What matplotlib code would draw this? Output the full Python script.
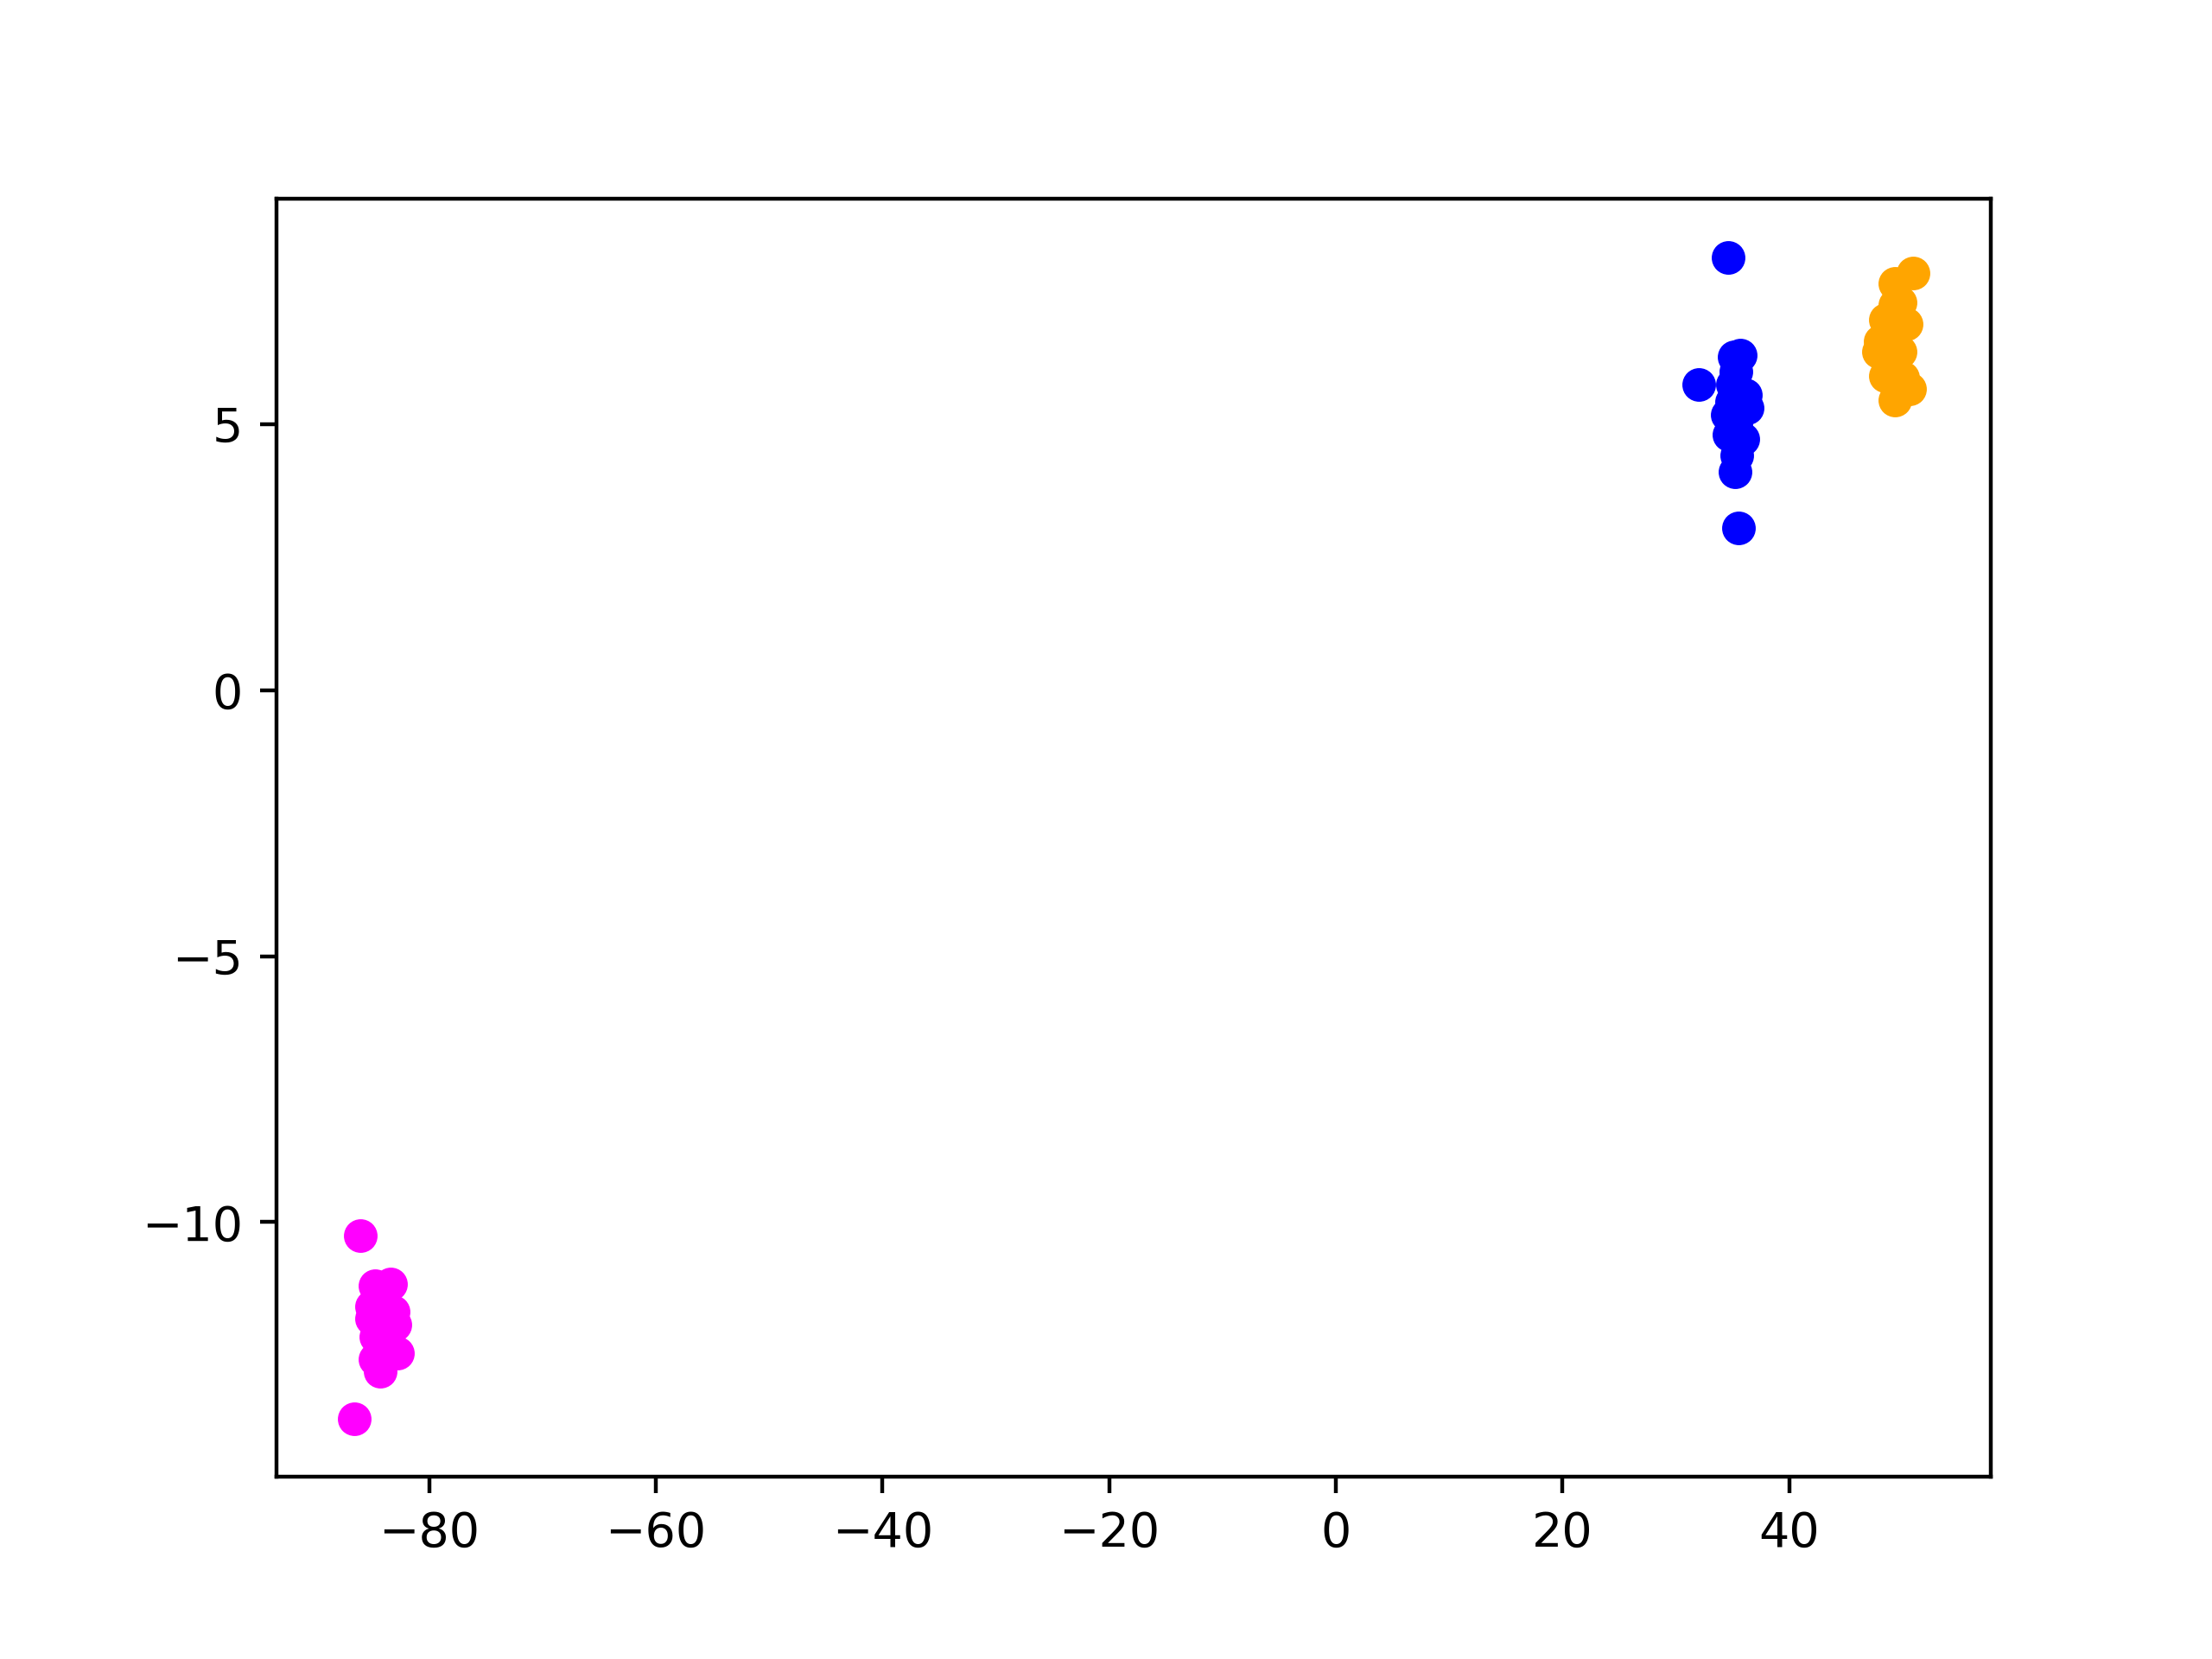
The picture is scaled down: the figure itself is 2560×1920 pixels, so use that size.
import matplotlib
matplotlib.use("Agg")
import matplotlib.pyplot as plt

blue_x = [34.6, 32.0, 35.5, 35.7, 35.1, 35.3, 36.1, 36.3, 34.5, 34.7, 35.9, 35.4, 35.2, 34.9, 35.3, 35.0]
blue_y = [8.14, 5.75, 3.05, 6.29, 6.27, 5.99, 5.55, 5.31, 5.18, 4.81, 4.73, 4.42, 4.11, 5.42, 5.02, 5.75]

orange_x = [50.9, 49.3, 49.8, 50.3, 48.5, 48.0, 47.9, 49.8, 48.5, 50.6, 49.3, 50.0, 49.0, 49.3]
orange_y = [7.84, 7.65, 7.29, 6.89, 6.97, 6.56, 6.37, 6.37, 5.91, 5.67, 5.46, 5.88, 6.76, 7.24]

magenta_x = [-86.1, -86.6, -84.8, -83.4, -85.1, -85.1, -83.2, -83.0, -84.7, -82.8, -84.8, -84.3, -83.8]
magenta_y = [-10.25, -13.69, -11.19, -11.17, -11.58, -11.82, -11.68, -11.92, -12.15, -12.47, -12.57, -12.81, -12.25]

fig, ax = plt.subplots(figsize=(6.4, 4.8), dpi=400)
ax.scatter(blue_x, blue_y, color="blue")
ax.scatter(orange_x, orange_y, color="orange")
ax.scatter(magenta_x, magenta_y, color="magenta")
fig.savefig("out.png", dpi=400)
